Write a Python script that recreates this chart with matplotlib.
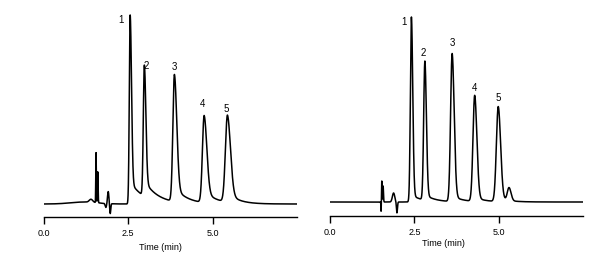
import numpy as np
import matplotlib
matplotlib.use("Agg")
import matplotlib.pyplot as plt

plt.rcParams['font.family'] = ['Liberation Sans', 'DejaVu Sans']

# ---- data (time in min, response in arbitrary units) ----
left_times   = [2.56, 2.98, 3.87, 4.75, 5.44]
left_heights = [189, 131, 127, 87, 87]
left_front   = [0.025, 0.03, 0.045, 0.05, 0.06]
left_back    = [0.04, 0.045, 0.07, 0.08, 0.09]
left_tail    = [0.12, 0.12, 0.12, 0.14, 0.12]
left_tau     = [0.4, 0.4, 0.35, 0.35, 0.3]
left_dist_times   = [1.55, 1.60, 1.84, 1.91, 1.97, 1.40, 1.2]
left_dist_heights = [50, 31, -4, 12, -10, 3, 2]
left_dist_widths  = [0.008, 0.01, 0.02, 0.02, 0.015, 0.05, 0.4]

right_times   = [2.41, 2.81, 3.62, 4.29, 4.99, 5.31]
right_heights = [185, 139, 148, 106, 95, 13]
right_front   = [0.03, 0.035, 0.045, 0.05, 0.055, 0.05]
right_back    = [0.04, 0.045, 0.06, 0.065, 0.07, 0.06]
right_tail    = [0.04, 0.04, 0.04, 0.04, 0.04, 0.0]
right_tau     = [0.3, 0.3, 0.3, 0.3, 0.3, 0.3]
right_dist_times   = [1.51, 1.53, 1.57, 1.88, 1.98]
right_dist_heights = [-10, 21, 16, 9, -11]
right_dist_widths  = [0.006, 0.008, 0.01, 0.035, 0.015]

left_labels_pos  = [(2.29, 184), (3.04, 138), (3.87, 137), (4.69, 100), (5.40, 95)]
right_labels_pos = [(2.20, 180), (2.77, 149), (3.62, 159), (4.28, 114), (4.98, 104)]
peak_labels = ['1', '2', '3', '4', '5']
tick_vals = [0.0, 2.5, 5.0]
tick_labels = ['0.0', '2.5', '5.0']


def chromatogram(t, times, heights, front, back, tail, tau, dtimes, dheights, dwidths):
    y = np.zeros_like(t)
    for tr, h, sf, sb, ta, tu in zip(times, heights, front, back, tail, tau):
        d = t - tr
        fr = np.exp(-d**2 / (2 * sf**2))
        bk = (1 - ta) * np.exp(-d**2 / (2 * sb**2)) + ta * np.exp(-np.clip(d, 0, None) / tu)
        y += h * np.where(d < 0, fr, bk)
    for tr, h, w in zip(dtimes, dheights, dwidths):
        y += h * np.exp(-(t - tr)**2 / (2 * w**2))
    return y


t = np.linspace(0.0, 7.5, 6000)
W, H = 600, 256
fig = plt.figure(figsize=(W / 100, H / 100), dpi=100)

panels = [
    dict(x0=43.7, x1=297.0, yb=217.0, base=204.0,
         times=left_times, heights=left_heights, front=left_front, back=left_back,
         tail=left_tail, tau=left_tau, dt=left_dist_times, dh=left_dist_heights,
         dw=left_dist_widths, labels=left_labels_pos, xl=(160, 247)),
    dict(x0=330.3, x1=582.7, yb=215.7, base=202.0,
         times=right_times, heights=right_heights, front=right_front, back=right_back,
         tail=right_tail, tau=right_tau, dt=right_dist_times, dh=right_dist_heights,
         dw=right_dist_widths, labels=right_labels_pos, xl=(443, 244)),
]

ytop = 10.0
for p in panels:
    ax = fig.add_axes([p['x0'] / W, 1 - p['yb'] / H, (p['x1'] - p['x0']) / W, (p['yb'] - ytop) / H])
    y = chromatogram(t, p['times'], p['heights'], p['front'], p['back'], p['tail'], p['tau'],
                     p['dt'], p['dh'], p['dw'])
    ax.plot(t, y, color='black', lw=1.1)
    ax.set_xlim(0, 7.5)
    ax.set_ylim(-(p['yb'] - p['base']), p['base'] - ytop)
    for lab, (lx, ly) in zip(peak_labels, p['labels']):
        ax.text(lx, ly, lab, ha='center', va='center', fontsize=7)
    for s in ['top', 'left', 'right']:
        ax.spines[s].set_visible(False)
    ax.spines['bottom'].set_linewidth(1.0)
    ax.set_yticks([])
    ax.set_xticks(tick_vals)
    ax.set_xticklabels(tick_labels, fontsize=6.5)
    ax.tick_params(axis='x', direction='out', length=5, width=1.0, pad=4)
    ax.patch.set_alpha(0)
    fig.text(p['xl'][0] / W, 1 - p['xl'][1] / H, 'Time (min)', ha='center', va='center', fontsize=6.5)

fig.savefig('out.png', dpi=100)
